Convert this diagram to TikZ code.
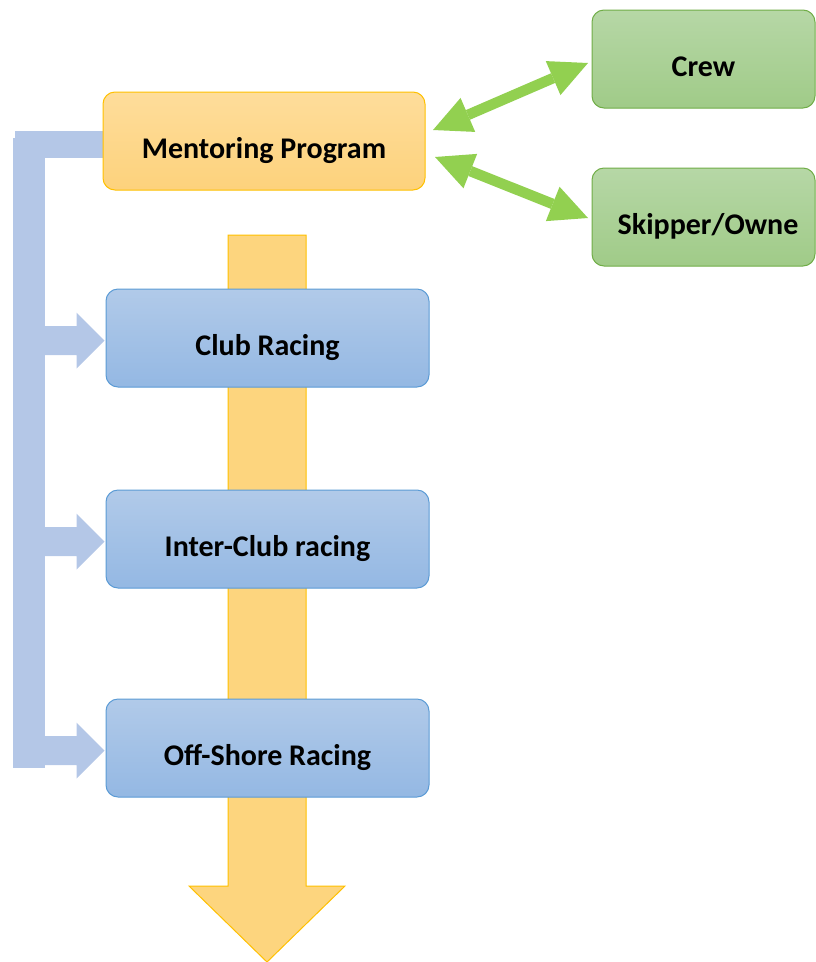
\documentclass[tikz,border=0pt]{standalone}
\usepackage{fontspec}
\setmainfont{Carlito}
\usetikzlibrary{arrows.meta,calc}
\definecolor{orTop}{HTML}{FEDD9B}
\definecolor{orBot}{HTML}{FDD27C}
\definecolor{orLine}{HTML}{FFC000}
\definecolor{grTop}{HTML}{B6D7A6}
\definecolor{grBot}{HTML}{A0CB88}
\definecolor{grLine}{HTML}{70AD47}
\definecolor{blTop}{HTML}{B1CAE9}
\definecolor{blBot}{HTML}{94B8E3}
\definecolor{blLine}{HTML}{5B9BD5}
\definecolor{yelFill}{HTML}{FDD57E}
\definecolor{brk}{HTML}{B4C7E7}
\definecolor{garr}{HTML}{92D050}
\tikzset{
  boxtext/.style={inner sep=0pt, text height=40pt, text depth=6pt,
    font=\fontsize{30}{36}\selectfont\bfseries, text=black},
  box/.style={boxtext, rectangle, rounded corners=12pt, line width=1pt, minimum height=98pt},
  orbox/.style={box, draw=orLine, top color=orTop, bottom color=orBot, minimum width=322pt},
  grbox/.style={box, draw=grLine, top color=grTop, bottom color=grBot, minimum width=223pt},
  blbox/.style={box, draw=blLine, top color=blTop, bottom color=blBot, minimum width=323pt},
  bigarrow/.style={fill=yelFill, draw=orLine, line width=1pt},
  bracket/.style={fill=brk},
  garrow/.style={draw=garr, line width=10.5pt,
    {Triangle[length=38pt,width=37pt,line width=0pt]}-{Triangle[length=38pt,width=37pt,line width=0pt]}}
}
\begin{document}
\begin{tikzpicture}[x=1pt,y=-1pt]
\useasboundingbox (0,0) rectangle (816,962);
% big yellow down arrow
\filldraw[bigarrow] (228,235) -- (306,235) -- (306,886) -- (345,886) -- (267,962)
  -- (189,886) -- (228,886) -- cycle;
% blue bracket
\fill[bracket] (15,131) rectangle (104,158);
\fill[bracket] (13,138) rectangle (45,768);
% boxes
\node[orbox] (mentor) at (264,141) {Mentoring Program};
\node[grbox] (crew) at (703.5,59) {Crew};
\node[grbox] (skipper) at (703.5,217) {};
\node[boxtext] (skiptext) at (708,217) {Skipper/Owne};
\node[blbox] (club) at (267.5,338) {Club Racing};
\node[blbox] (inter) at (267.5,539) {Inter-Club racing};
\node[blbox] (off) at (267.5,748) {Off-Shore Racing};
% branch arrows
\foreach \n in {club,inter,off}{
  \path (\n.west) ++(-1,2.5) coordinate (tip);
  \fill[bracket] (tip) -- ++(-28,-28) -- ++(0,13.5) -- ++(-32,0) -- ++(0,29)
    -- ++(32,0) -- ++(0,13.5) -- cycle;
}
% green double arrows
\coordinate (g1a) at (433,130);
\coordinate (g1b) at (588,63);
\coordinate (g2a) at (435,157);
\coordinate (g2b) at (588,218);
\draw[garrow] (g1a) -- (g1b);
\draw[garrow] (g2a) -- (g2b);
\end{tikzpicture}
\end{document}
